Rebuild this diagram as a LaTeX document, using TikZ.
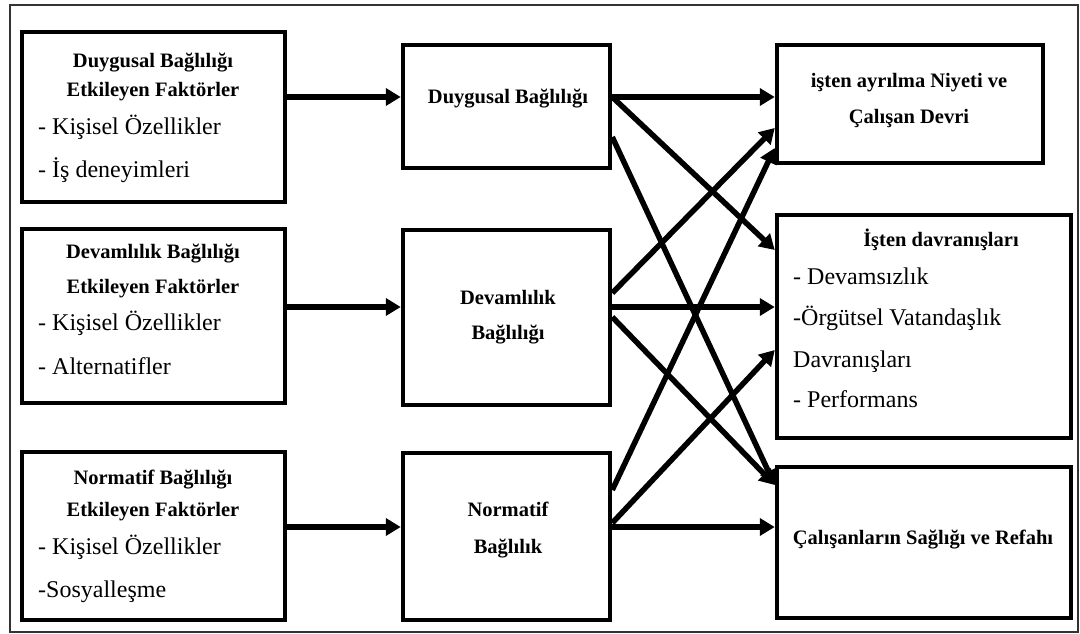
\documentclass[tikz,border=0pt]{standalone}
\usepackage{fontspec}
\setmainfont{Liberation Serif}
\usetikzlibrary{arrows.meta}

\begin{document}
\begin{tikzpicture}[x=1pt,y=-1pt,
  box/.style={draw, line width=4.5pt, inner sep=0pt, minimum width=#1},
  hd/.style={font=\fontsize{20.5}{24}\selectfont\bfseries, inner sep=0pt, anchor=base},
  it/.style={font=\fontsize{24}{28}\selectfont, inner sep=0pt, anchor=base west},
  arr/.style={line width=5.5pt, -{Triangle[length=15pt,width=17pt]}},
  frame/.style={draw=black!80, line width=1.8pt}]

\useasboundingbox (0,0) rectangle (1080,634);
\draw[frame] (10,5) rectangle (1078,632);

% --- influencing factors (left column)
\node[box=263pt, minimum height=170pt] (lb1) at (153.5,117) {};
\node[box=263pt, minimum height=174pt] (lb2) at (153.5,316) {};
\node[box=263pt, minimum height=168pt] (lb3) at (153.5,536) {};

\node[hd] (lb1a) at (153,68) {Duygusal Bağlılığı};
\node[hd] (lb1b) at (153,96) {Etkileyen Faktörler};
\node[it] (lb1c) at (38,134) {- Kişisel Özellikler};
\node[it] (lb1d) at (38,177) {- İş deneyimleri};

\node[hd] (lb2a) at (153,258) {Devamlılık Bağlılığı};
\node[hd] (lb2b) at (153,293) {Etkileyen Faktörler};
\node[it] (lb2c) at (38,330) {- Kişisel Özellikler};
\node[it] (lb2d) at (38,374) {- Alternatifler};

\node[hd] (lb3a) at (153,484) {Normatif Bağlılığı};
\node[hd] (lb3b) at (153,516) {Etkileyen Faktörler};
\node[it] (lb3c) at (38,554) {- Kişisel Özellikler};
\node[it] (lb3d) at (38,597) {-Sosyalleşme};

% --- commitment types (middle column)
\node[box=207pt, minimum height=123pt] (mb1) at (506.5,106.5) {};
\node[box=207pt, minimum height=175pt] (mb2) at (506.5,317.5) {};
\node[box=207pt, minimum height=167pt] (mb3) at (506.5,536.5) {};

\node[hd] (mb1a) at (508,103) {Duygusal Bağlılığı};
\node[hd] (mb2a) at (508,304) {Devamlılık};
\node[hd] (mb2b) at (508,339) {Bağlılığı};
\node[hd] (mb3a) at (508,516) {Normatif};
\node[hd] (mb3b) at (508,553) {Bağlılık};

% --- outcomes (right column)
\node[box=266pt, minimum height=118pt] (rb1) at (910,104) {};
\node[box=294pt, minimum height=223pt] (rb2) at (924,326.5) {};
\node[box=294pt, minimum height=151pt] (rb3) at (924,542.5) {};

\node[hd] (rb1a) at (909,88) {işten ayrılma Niyeti ve};
\node[hd] (rb1b) at (909,124) {Çalışan Devri};
\node[hd] (rb2a) at (941,246) {İşten davranışları};
\node[it] (rb2b) at (793,284) {- Devamsızlık};
\node[it] (rb2c) at (793,325) {-Örgütsel Vatandaşlık};
\node[it] (rb2d) at (793,367) {Davranışları};
\node[it] (rb2e) at (793,407) {- Performans};
\node[hd] (rb3a) at (923,544) {Çalışanların Sağlığı ve Refahı};

% --- connector levels
\coordinate (y1) at (0,97);
\coordinate (y2) at (0,307);
\coordinate (y3) at (0,527);
\coordinate (s1b) at (0,137);
\coordinate (s2a) at (0,293);
\coordinate (s2c) at (0,317);
\coordinate (s3a) at (0,490);
\coordinate (s3b) at (0,523);
\coordinate (e1b) at (0,128);
\coordinate (e1c) at (0,148);
\coordinate (e2a) at (0,250);
\coordinate (e2c) at (0,350);
\coordinate (e3a) at (0,485);

% left -> middle
\draw[arr] (lb1.east |- y1) -- (mb1.west |- y1);
\draw[arr] (lb2.east |- y2) -- (mb2.west |- y2);
\draw[arr] (lb3.east |- y3) -- (mb3.west |- y3);

% middle -> right
\draw[arr] (mb1.east |- y1) -- (rb1.west |- y1);
\draw[arr] (mb1.east |- y1) -- (rb2.west |- e2a);
\draw[arr] (mb1.east |- s1b) -- (rb3.west |- e3a);

\draw[arr] (mb2.east |- s2a) -- (rb1.west |- e1b);
\draw[arr] (mb2.east |- y2) -- (rb2.west |- y2);
\draw[arr] (mb2.east |- s2c) -- (rb3.west |- e3a);

\draw[arr] (mb3.east |- s3a) -- (rb1.west |- e1c);
\draw[arr] (mb3.east |- s3b) -- (rb2.west |- e2c);
\draw[arr] (mb3.east |- y3) -- (rb3.west |- y3);
\end{tikzpicture}
\end{document}
